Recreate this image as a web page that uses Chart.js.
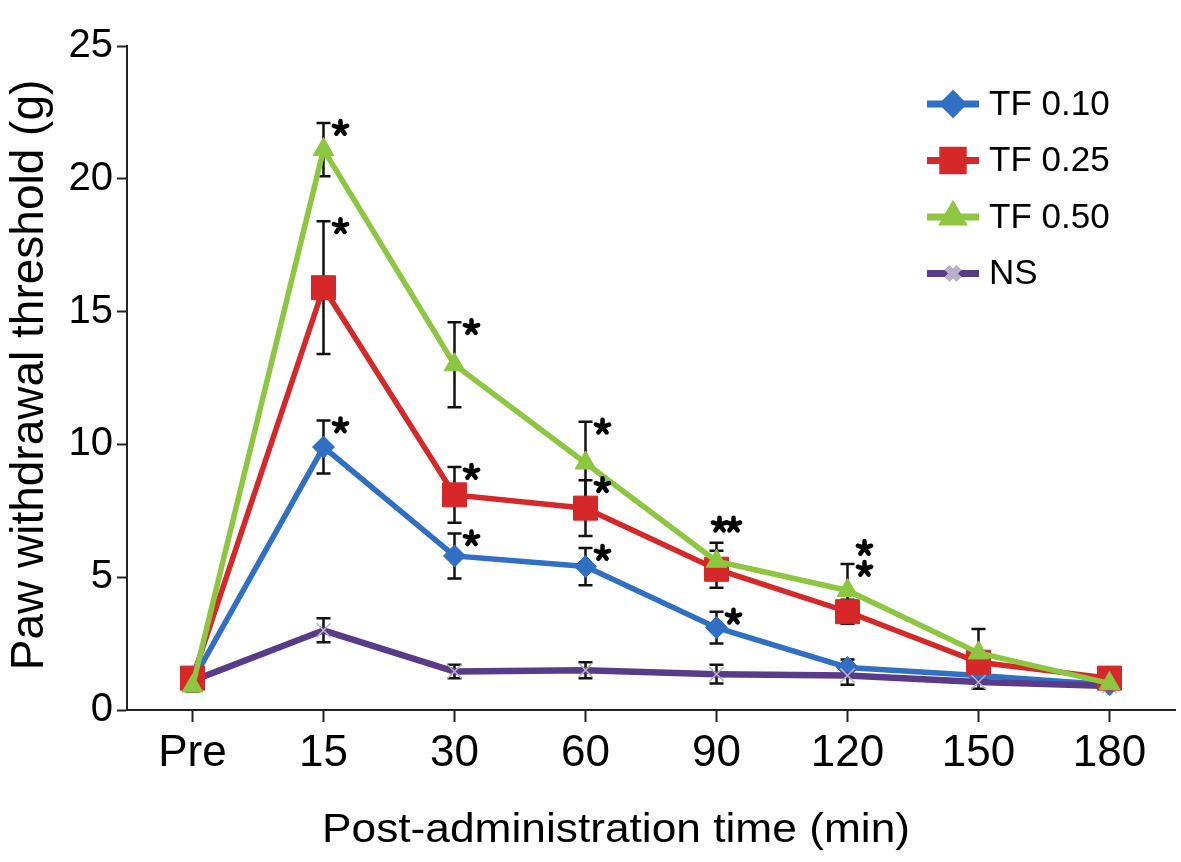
<!DOCTYPE html>
<html>
<head>
<meta charset="utf-8">
<script src="https://cdn.jsdelivr.net/npm/chart.js@4.4.1/dist/chart.umd.min.js"></script>
<style>
html, body { margin: 0; padding: 0; background: #fff; overflow: hidden; }
</style>
</head>
<body>
<canvas id="chart" width="1181" height="862"></canvas>
<script>
const times = ["Pre", "15", "30", "60", "90", "120", "150", "180"];
const yTicks = [0, 5, 10, 15, 20, 25];

const tf010 = [1.1, 9.9, 5.8, 5.4, 3.1, 1.6, 1.3, 0.95];
const tf010Err = [0.2, 1.0, 0.85, 0.7, 0.6, 0.3, 0.2, 0.1];
const tf025 = [1.2, 15.9, 8.1, 7.6, 5.3, 3.7, 1.8, 1.2];
const tf025Err = [0.3, 2.5, 1.05, 1.05, 0.7, 0.45, 0.3, 0.2];
const tf050 = [0.9, 21.1, 13.0, 9.3, 5.6, 4.5, 2.15, 1.0];
const tf050Err = [0.2, 1.0, 1.6, 1.55, 0.7, 1.0, 0.9, 0.2];
const ns = [1.1, 3.0, 1.45, 1.5, 1.35, 1.3, 1.05, 0.9];
const nsErr = [0.1, 0.45, 0.25, 0.3, 0.35, 0.35, 0.25, 0.1];

// significance marks, "**" = pair above the cap, "\n" = stacked
const sig010 = ["", "*", "*", "*", "*", "", "", ""];
const sig025 = ["", "*", "*", "*", "", "", "", ""];
const sig050 = ["", "*", "*", "*", "**", "*\n*", "", ""];
const sigNs = ["", "", "", "", "", "", "", ""];

const FONT = "'Liberation Sans', Arial, sans-serif";

function drawStar(ctx, x, y) {
    ctx.save();
    ctx.strokeStyle = "#000";
    ctx.lineWidth = 4.5;
    ctx.lineCap = "round";
    ctx.beginPath();
    for (let k = 0; k < 5; k++) {
        const a = -Math.PI / 2 + k * 2 * Math.PI / 5;
        ctx.moveTo(x, y);
        ctx.lineTo(x + Math.cos(a) * 7, y + Math.sin(a) * 7);
    }
    ctx.stroke();
    ctx.restore();
}

const errorBars = {
    id: "errorBars",
    beforeDatasetsDraw(chart) {
        const ctx = chart.ctx;
        const ys = chart.scales.y;
        ctx.save();
        ctx.strokeStyle = "#111";
        ctx.lineWidth = 2.5;
        chart.data.datasets.forEach((ds, i) => {
            const meta = chart.getDatasetMeta(i);
            ds.errors.forEach((e, j) => {
                const x = meta.data[j].x;
                const top = ys.getPixelForValue(ds.data[j] + e);
                const bot = ys.getPixelForValue(ds.data[j] - e);
                ctx.beginPath();
                ctx.moveTo(x, top); ctx.lineTo(x, bot);
                ctx.moveTo(x - 7, top); ctx.lineTo(x + 7, top);
                ctx.moveTo(x - 7, bot); ctx.lineTo(x + 7, bot);
                ctx.stroke();
            });
        });
        ctx.restore();
    },
    afterDatasetsDraw(chart) {
        const ctx = chart.ctx;
        const ys = chart.scales.y;
        chart.data.datasets.forEach((ds, i) => {
            const meta = chart.getDatasetMeta(i);
            ds.sig.forEach((s, j) => {
                if (!s) return;
                const x = meta.data[j].x;
                const top = ys.getPixelForValue(ds.data[j] + ds.errors[j]);
                if (s === "**") {
                    drawStar(ctx, x + 3, top - 18);
                    drawStar(ctx, x + 17, top - 18);
                } else {
                    s.split("\n").forEach((_, k) => {
                        drawStar(ctx, x + 17, top + 5 - k * 21);
                    });
                }
            });
        });
    }
};

const extras = {
    id: "extras",
    afterDraw(chart) {
        const ctx = chart.ctx;
        const area = chart.chartArea;
        ctx.save();
        // legend
        const lx = area.right - 248;
        let ly = area.top + 58;
        chart.data.datasets.forEach(ds => {
            ctx.strokeStyle = ds.borderColor;
            ctx.lineWidth = 7;
            ctx.beginPath();
            ctx.moveTo(lx, ly); ctx.lineTo(lx + 52, ly);
            ctx.stroke();
            ctx.fillStyle = ds.pointBackgroundColor;
            ctx.strokeStyle = ds.pointBorderColor;
            Chart.helpers.drawPoint(ctx, {
                pointStyle: ds.pointStyle,
                radius: ds.pointRadius * 0.85,
                rotation: 0,
                borderWidth: ds.pointBorderWidth
            }, lx + 26, ly);
            ctx.fillStyle = "#000";
            ctx.font = "35px " + FONT;
            ctx.textAlign = "left";
            ctx.textBaseline = "middle";
            ctx.fillText(ds.label, lx + 62, ly + 1);
            ly += 56.5;
        });
        // axis titles
        ctx.fillStyle = "#000";
        ctx.textAlign = "center";
        ctx.textBaseline = "alphabetic";
        ctx.save();
        ctx.font = "41px " + FONT;
        const xt = "Post-administration time (min)";
        const sx = 588 / ctx.measureText(xt).width;
        ctx.translate(616, 842);
        ctx.scale(sx, 1);
        ctx.fillText(xt, 0, 0);
        ctx.restore();
        ctx.translate(43, (area.top + area.bottom) / 2 - 3);
        ctx.rotate(-Math.PI / 2);
        ctx.font = "46px " + FONT;
        ctx.fillText("Paw withdrawal threshold (g)", 0, 0);
        ctx.restore();
    }
};

function makeSet(label, data, errors, sig, color, style, radius, order) {
    return {
        label: label,
        data: data,
        errors: errors,
        sig: sig,
        borderColor: color,
        backgroundColor: color,
        borderWidth: 5.5,
        tension: 0,
        pointStyle: style,
        pointRadius: radius,
        pointHoverRadius: radius,
        pointBackgroundColor: color,
        pointBorderColor: color,
        pointBorderWidth: 1,
        order: order
    };
}

const datasets = [
    makeSet("TF 0.10", tf010, tf010Err, sig010, "#2F6FC4", "rectRot", 11, 3),
    makeSet("TF 0.25", tf025, tf025Err, sig025, "#D62828", "rect", 17, 1),
    makeSet("TF 0.50", tf050, tf050Err, sig050, "#8DC63F", "triangle", 12, 0),
    makeSet("NS", ns, nsErr, sigNs, "#5A3B8A", "crossRot", 10, 2)
];
datasets[3].borderWidth = 6.5;
datasets[3].pointBorderColor = "#B8B0C6";
datasets[3].pointBorderWidth = 1.5;

new Chart(document.getElementById("chart"), {
    type: "line",
    data: { labels: times, datasets: datasets },
    options: {
        responsive: false,
        animation: false,
        layout: { autoPadding: false, padding: { top: 46, right: 6, left: 0, bottom: 0 } },
        plugins: { legend: { display: false }, tooltip: { enabled: false } },
        scales: {
            x: {
                type: "category",
                offset: true,
                afterFit(s) {
                    s.height = 152;
                    s.paddingLeft = 0;
                    s.paddingRight = 0;
                },
                grid: {
                    offset: false,
                    drawOnChartArea: false,
                    drawTicks: true,
                    tickLength: 12,
                    tickWidth: 2,
                    color: "#222"
                },
                border: { color: "#222", width: 2 },
                ticks: {
                    color: "#000",
                    padding: 5,
                    maxRotation: 0,
                    font: { family: FONT, size: 44 }
                }
            },
            y: {
                min: 0,
                max: 25,
                afterFit(s) {
                    s.width = 127;
                    s.paddingTop = 0;
                    s.paddingBottom = 0;
                },
                afterBuildTicks(s) { s.ticks = yTicks.map(v => ({ value: v })); },
                grid: {
                    drawOnChartArea: false,
                    drawTicks: true,
                    tickLength: 10,
                    tickWidth: 2,
                    color: "#222"
                },
                border: { color: "#222", width: 2 },
                ticks: {
                    color: "#000",
                    padding: 4,
                    font: { family: FONT, size: 40 }
                }
            }
        }
    },
    plugins: [errorBars, extras]
});
</script>
</body>
</html>
